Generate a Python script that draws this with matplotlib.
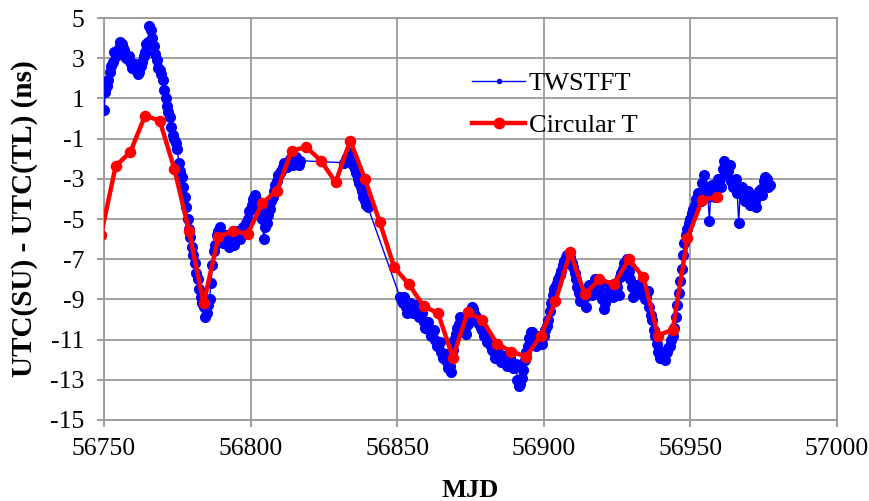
import numpy as np
from matplotlib import pyplot as plt

# Circular T points (every 5 days)
circt_mjd = [56749, 56754, 56759, 56764, 56769, 56774, 56779, 56784, 56789, 56794,
             56799, 56804, 56809, 56814, 56819, 56824, 56829, 56834, 56839, 56844,
             56849, 56854, 56859, 56864, 56869, 56874, 56879, 56884, 56889, 56894,
             56899, 56904, 56909, 56914, 56919, 56924, 56929, 56934, 56939, 56944,
             56949, 56954, 56959]
circt_val = [-5.8, -2.36, -1.67, 0.14, -0.1, -2.5, -5.6, -9.2, -5.9, -5.6,
             -5.75, -4.2, -3.6, -1.6, -1.42, -2.1, -3.17, -1.1, -3.0, -5.13,
             -7.4, -8.25, -9.33, -9.7, -11.9, -9.65, -10.0, -11.2, -11.6, -11.85,
             -10.8, -9.1, -6.65, -8.75, -8.0, -8.25, -7.0, -7.9, -10.8, -10.5,
             -5.96, -4.05, -3.9]

# TWSTFT, read per day (x.0) and half day (x.5), three stretches of data
seg_start = [56750, 56832, 56851]

tw_a_day = [0.4, 1.6, 2.3, 2.8, 3.1, 3.5, 3.7, 3.4, 3.0, 2.8,
            2.6, 2.4, 2.3, 2.8, 3.3, 3.8, 4.4, 3.6, 2.9, 2.4,
            1.9, 1.0, 0.3, -0.4, -1.0, -1.5, -2.6, -3.4, -4.4, -5.5,
            -6.4, -7.2, -8.0, -8.9, -9.4, -9.7, -9.0, -7.3, -6.3, -5.6,
            -5.8, -6.1, -6.2, -6.1, -6.0, -5.9, -5.8, -5.7, -5.4, -5.0,
            -4.5, -4.0, -4.0, -4.2, -5.0, -5.4, -4.8, -4.1, -3.6, -3.1,
            -2.7, -2.4, -2.3, -2.2, -2.1, -2.1, -2.2, -2.1]
tw_a_half = [1.3, 1.9, 2.6, 3.3, 3.2, 3.8, 3.5, 3.0, 3.1, 2.5,
             2.7, 2.2, 2.6, 3.1, 3.7, 4.6, 4.0, 3.2, 2.5, 2.2,
             1.4, 0.6, 0.1, -0.8, -1.2, -2.2, -2.9, -3.9, -5.0, -5.9,
             -6.8, -7.7, -8.5, -9.2, -9.9, -9.3, -8.2, -6.6, -5.8, -5.4,
             -6.2, -5.8, -6.4, -5.7, -6.3, -5.6, -6.0, -5.4, -5.2, -4.6,
             -4.3, -3.8, -4.3, -4.5, -6.0, -5.2, -4.5, -3.9, -3.3, -2.8,
             -2.6, -2.2, -2.4, -2.0, -2.3, -1.9, -2.3]

tw_b_day = [-2.2, -1.9, -1.8, -2.3, -2.7, -3.2, -3.6, -4.1, -4.4]
tw_b_half = [-2.0, -1.7, -2.0, -2.5, -3.0, -3.4, -3.9, -4.3]

tw_c_day = [-8.9, -9.2, -9.4, -9.5, -9.4, -9.5, -9.6, -9.9, -10.1, -10.3,
            -10.5, -10.7, -11.0, -11.3, -11.6, -11.9, -12.1, -12.3, -11.5, -10.7,
            -10.2, -10.0, -10.5, -10.2, -9.6, -9.5, -9.9, -10.2, -10.5, -10.8,
            -11.0, -11.3, -11.6, -11.8, -11.9, -12.0, -12.0, -12.1, -12.2, -12.4,
            -13.0, -13.2, -12.5, -11.6, -10.9, -10.6, -10.9, -11.1, -11.0, -10.8,
            -10.3, -9.6, -8.8, -8.4, -8.0, -7.6, -7.1, -6.8, -6.9, -7.4,
            -8.0, -8.7, -9.0, -8.9, -8.7, -8.4, -8.3, -8.2, -8.5, -9.0,
            -9.2, -8.8, -8.3, -8.6, -8.4, -7.9, -7.5, -7.2, -7.6, -8.4,
            -8.8, -8.4, -8.2, -8.6, -8.9, -9.4, -10.0, -10.8, -11.6, -11.9,
            -11.8, -11.6, -11.3, -10.8, -9.9, -8.7, -7.5, -6.2, -5.5, -5.0,
            -4.5, -4.0, -3.8, -3.2, -3.6, -3.9, -3.6, -3.4, -3.2, -3.0,
            -2.5, -2.3, -2.6, -3.1, -3.4, -3.7, -3.6, -3.8, -3.9, -4.0,
            -4.2, -4.1, -3.8, -3.5, -3.1, -3.0, -3.3]
tw_c_half = [-9.1, -8.9, -9.7, -9.2, -9.7, -9.3, -9.9, -9.7, -10.4, -10.1,
             -10.8, -10.5, -11.3, -11.1, -11.9, -11.7, -12.4, -12.6, -11.0, -10.4,
             -9.9, -10.3, -10.7, -9.8, -9.4, -9.8, -10.1, -10.4, -10.8, -11.1,
             -11.2, -11.5, -11.9, -11.6, -12.1, -11.8, -12.3, -11.9, -12.4, -12.2,
             -13.3, -12.9, -12.0, -11.3, -10.6, -10.8, -11.3, -10.8, -11.2, -10.5,
             -10.0, -9.2, -8.5, -8.2, -7.8, -7.3, -6.9, -7.0, -7.2, -7.7,
             -8.4, -9.1, -8.7, -9.4, -8.3, -8.8, -8.0, -8.6, -8.2, -9.5,
             -8.9, -8.5, -8.9, -8.2, -8.8, -7.7, -7.2, -7.0, -8.0, -8.9,
             -8.3, -8.7, -8.4, -9.0, -8.6, -9.8, -10.5, -11.2, -11.9, -11.6,
             -12.0, -11.4, -11.0, -10.4, -9.3, -8.1, -6.8, -5.8, -5.2, -4.7,
             -4.3, -3.7, -4.1, -2.8, -3.9, -5.1, -3.3, -3.9, -3.0, -3.4,
             -2.1, -2.7, -2.3, -3.4, -3.0, -5.2, -3.4, -4.1, -3.6, -4.3,
             -3.9, -4.4, -3.6, -3.8, -2.9, -3.4]

x_ticks = [56750, 56800, 56850, 56900, 56950, 57000]
y_ticks = [5, 3, 1, -1, -3, -5, -7, -9, -11, -13, -15]

# assemble the TWSTFT series in time order
tw_x, tw_y = [], []
for start, day, half in [(seg_start[0], tw_a_day, tw_a_half),
                         (seg_start[1], tw_b_day, tw_b_half),
                         (seg_start[2], tw_c_day, tw_c_half)]:
    for i, v in enumerate(day):
        tw_x.append(start + i)
        tw_y.append(v)
        if i < len(half):
            tw_x.append(start + i + 0.5)
            tw_y.append(half[i])

serif = ['Liberation Serif', 'DejaVu Serif']
plt.rcParams['font.family'] = serif

fig = plt.figure(figsize=(8.7, 5.01), dpi=100)
ax = fig.add_axes([0.1195, 0.1617, 0.8425, 0.8023])

ax.plot(tw_x, tw_y, color="#0000ff", lw=1.0, marker="o", markersize=8,
        markeredgewidth=0, label="TWSTFT", zorder=3)
ax.plot(circt_mjd, circt_val, color="#ff0000", lw=3.2, marker="o", markersize=8.3,
        markeredgewidth=0, label="Circular T", zorder=4)

ax.set_xlim(56750, 57000)
ax.set_ylim(-15, 5)
ax.set_xticks(x_ticks)
ax.set_xticklabels([str(t) for t in x_ticks], family=serif)
ax.set_yticks(y_ticks)
ax.set_yticklabels([str(t) for t in y_ticks], family=serif)
ax.grid(True, color="#9a9a9a", lw=1.3)
ax.set_axisbelow(True)
for s in ax.spines.values():
    s.set_color("#9a9a9a")
    s.set_linewidth(1.3)
ax.tick_params(axis="both", direction="out", length=5, width=1.2, color="#8a8a8a",
               labelsize=18.5)
ax.tick_params(axis="x", pad=8)
ax.tick_params(axis="y", pad=9)

ax.set_xlabel("MJD", fontsize=19, fontweight="bold", labelpad=14, family=serif)
ax.set_ylabel("UTC(SU) - UTC(TL) (ns)", fontsize=21, fontweight="bold", labelpad=9,
              family=serif)

leg = ax.legend(loc="upper left", bbox_to_anchor=(0.47, 0.925), frameon=False,
                prop={"family": serif, "size": 19}, handlelength=2.0,
                handletextpad=0.15, labelspacing=0.7)
# small dot for TWSTFT, larger one for Circular T, like the original key
leg.legend_handles[0].set_markersize(4)
leg.legend_handles[1].set_markersize(8.5)

fig.savefig("out.png", dpi=100)
